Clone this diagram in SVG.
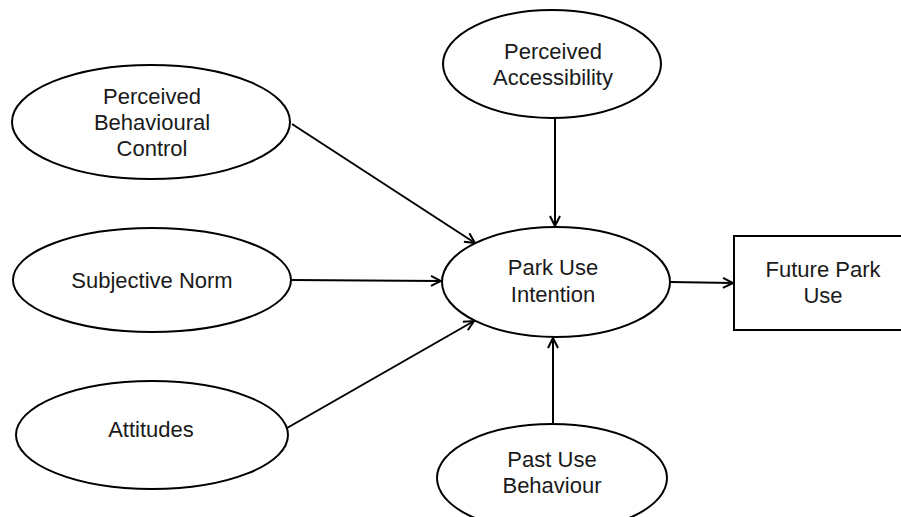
<svg xmlns="http://www.w3.org/2000/svg" width="901" height="517" viewBox="0 0 901 517">
<style>
.n{fill:#fff;stroke:#000;stroke-width:2}
.t{font-family:"Liberation Sans",Arial,Helvetica,sans-serif;font-size:22px;fill:#1a1a1a;text-anchor:middle}
.c{stroke:#000;stroke-width:2;fill:none;marker-end:url(#ah)}
</style>
<defs>
<marker id="ah" viewBox="0 0 12 12" refX="11" refY="6" markerWidth="12" markerHeight="12" markerUnits="userSpaceOnUse" orient="auto">
<path d="M1,1 L11,6 L1,11" fill="none" stroke="#000" stroke-width="2"/>
</marker>
</defs>
<rect width="901" height="517" fill="#fff"/>
<g id="connectors">
<line class="c" x1="292" y1="124" x2="475" y2="243"/>
<line class="c" x1="291" y1="280" x2="441" y2="281"/>
<line class="c" x1="287" y1="428" x2="474" y2="321"/>
<line class="c" x1="555" y1="118" x2="555" y2="226"/>
<line class="c" x1="553" y1="424" x2="553" y2="338"/>
<line class="c" x1="670" y1="282" x2="733" y2="283"/>
</g>
<g id="pbc">
<ellipse class="n" cx="151" cy="122" rx="139" ry="57"/>
<text class="t" x="152" y="104">Perceived</text>
<text class="t" x="152" y="130">Behavioural</text>
<text class="t" x="152" y="156">Control</text>
</g>
<g id="sn">
<ellipse class="n" cx="152" cy="280" rx="139" ry="52"/>
<text class="t" x="152" y="288">Subjective Norm</text>
</g>
<g id="att">
<ellipse class="n" cx="152" cy="435" rx="136" ry="54"/>
<text class="t" x="151" y="437">Attitudes</text>
</g>
<g id="pa">
<ellipse class="n" cx="552" cy="64" rx="109" ry="54"/>
<text class="t" x="553" y="59">Perceived</text>
<text class="t" x="553" y="85">Accessibility</text>
</g>
<g id="pui">
<ellipse class="n" cx="556" cy="282" rx="114" ry="55"/>
<text class="t" x="553" y="275">Park Use</text>
<text class="t" x="553" y="302">Intention</text>
</g>
<g id="fpu">
<rect class="n" x="734" y="236" width="178" height="94"/>
<text class="t" x="823" y="277">Future Park</text>
<text class="t" x="823" y="303">Use</text>
</g>
<g id="pub">
<ellipse class="n" cx="552" cy="478" rx="115" ry="54"/>
<text class="t" x="552" y="467">Past Use</text>
<text class="t" x="552" y="493">Behaviour</text>
</g>
</svg>
